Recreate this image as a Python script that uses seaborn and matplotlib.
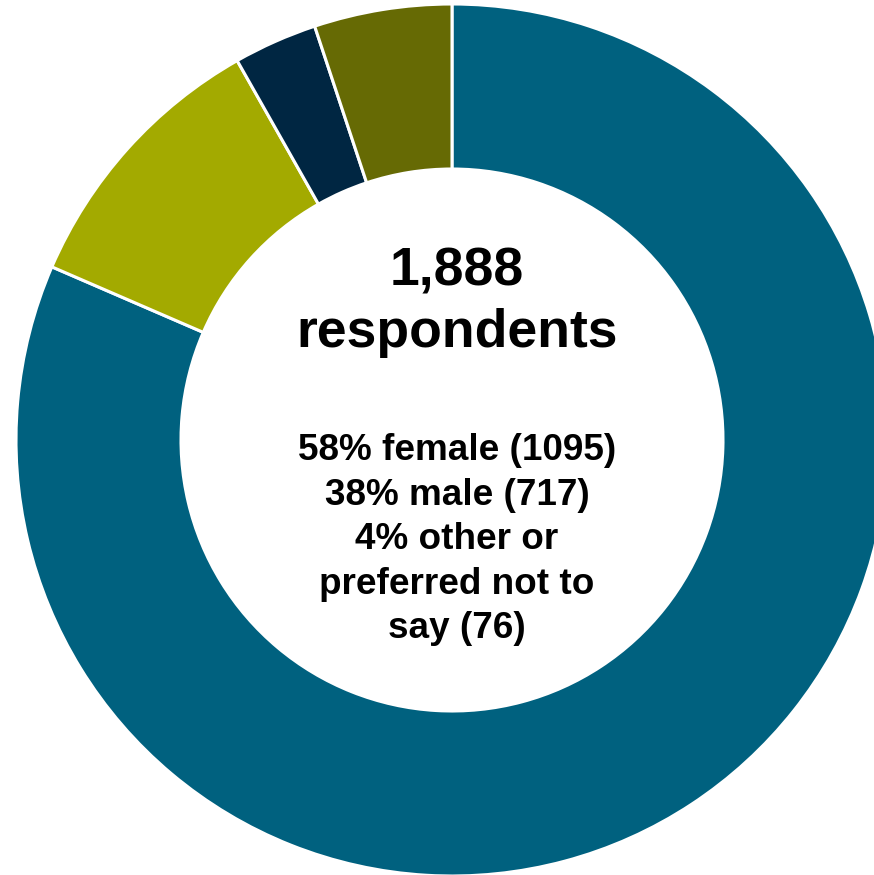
import matplotlib
matplotlib.use("Agg")
import matplotlib.pyplot as plt
import seaborn as sns

# Share of respondents in each segment (percent)
segments = ["Group A", "Group B", "Group C", "Group D"]
shares = [81.5, 10.3, 3.1, 5.1]
colors = ["#00617F", "#A3AA00", "#002642", "#666A04"]

total_label = ["1,888", "respondents"]
breakdown = [
    "58% female (1095)",
    "38% male (717)",
    "4% other or",
    "preferred not to",
    "say (76)",
]

sns.set_theme(style="white")
plt.rcParams["font.family"] = ["Liberation Sans", "DejaVu Sans"]

W, H = 874, 875
fig = plt.figure(figsize=(W / 100, H / 100), dpi=100)
ax = fig.add_axes([0, 0, 1, 1])

cx, cy, R = 452, 440, 436  # pixel centre and outer radius
ax.pie(
    shares,
    colors=sns.color_palette(colors),
    startangle=90,
    counterclock=False,
    radius=1.0,
    wedgeprops=dict(width=1 - 271 / R, edgecolor="white", linewidth=2.2),
)
ax.set_xlim(-cx / R, (W - cx) / R)
ax.set_ylim(-(H - cy) / R, cy / R)
ax.set_aspect("equal")
ax.axis("off")


def y_data(py):
    return (cy - py) / R


tx = (457 - cx) / R
for txt, py in zip(total_label, [285, 347]):
    ax.text(tx, y_data(py), txt, ha="center", va="baseline",
            fontsize=38.5, fontweight="bold", color="black")

for txt, py in zip(breakdown, [460, 505, 549, 594, 638]):
    ax.text(tx, y_data(py), txt, ha="center", va="baseline",
            fontsize=26.6, fontweight="bold", color="black")

fig.savefig("out.png", dpi=100, facecolor="white")
